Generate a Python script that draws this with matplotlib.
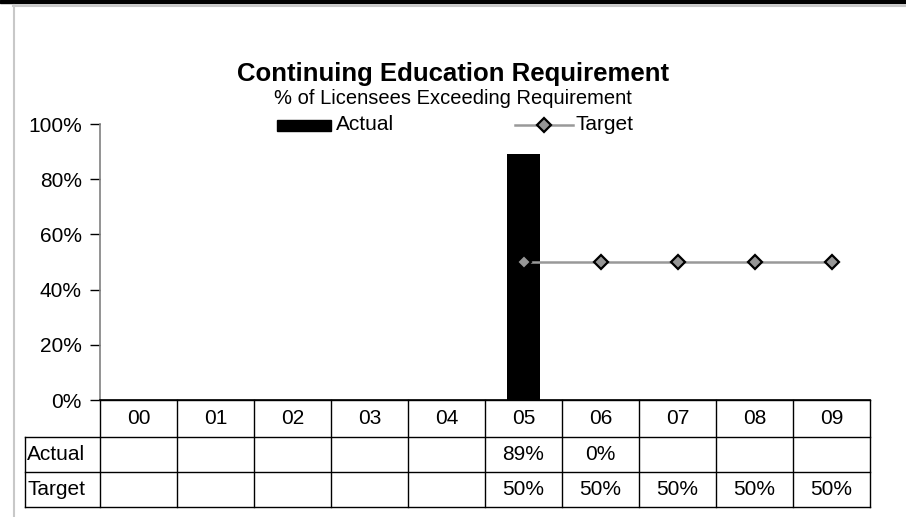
import matplotlib
matplotlib.use("Agg")
import matplotlib.pyplot as plt
import numpy as np
from matplotlib.lines import Line2D
from matplotlib.patches import Rectangle
import matplotlib.transforms as mtransforms

categories = ['00', '01', '02', '03', '04', '05', '06', '07', '08', '09']
actual = [None, None, None, None, None, 0.89, 0.0, None, None, None]
target = [None, None, None, None, None, 0.50, 0.50, 0.50, 0.50, 0.50]
yticks = [0, 0.2, 0.4, 0.6, 0.8, 1.0]
ytick_labels = ['0%', '20%', '40%', '60%', '80%', '100%']
title = 'Continuing Education Requirement'
subtitle = '% of Licensees Exceeding Requirement'

plt.rcParams['font.family'] = ['Liberation Sans', 'DejaVu Sans']

W, H = 906, 517
fig = plt.figure(figsize=(W / 100, H / 100), dpi=100)

def fx(px):
    return px / W

def fy(py):
    return 1 - py / H

ax_left, ax_right, ax_top, ax_bottom = 100, 870, 124, 400
ax = fig.add_axes([fx(ax_left), fy(ax_bottom), (ax_right - ax_left) / W, (ax_bottom - ax_top) / H])

bar_x = [i for i, v in enumerate(actual) if v is not None]
bar_v = [v for v in actual if v is not None]
ax.bar(bar_x, bar_v, width=0.42, color='black', zorder=2)

tx = [i for i, v in enumerate(target) if v is not None]
tv = [v for v in target if v is not None]
ax.plot(tx, tv, color='#999999', lw=1.8, marker='D', markersize=7,
        markerfacecolor='#969696', markeredgecolor='black', markeredgewidth=1.6, zorder=3)

fs = 15
ax.set_xlim(-0.5, len(categories) - 0.5)
ax.set_ylim(0, 1.0)
ax.set_yticks(yticks)
ax.set_yticklabels(ytick_labels, fontsize=fs)
ax.set_xticks([])
for s in ['top', 'right']:
    ax.spines[s].set_visible(False)
ax.spines['left'].set_color('#808080')
ax.spines['left'].set_linewidth(1.2)
ax.spines['bottom'].set_color('black')
ax.spines['bottom'].set_linewidth(1.2)
ax.tick_params(axis='y', direction='out', length=7, width=1.0, color='black', pad=6)
ax.patch.set_alpha(0)

# Table below the axes
trans = mtransforms.blended_transform_factory(ax.transData, fig.transFigure)
row_edges = [400, 437, 472, 507]
label_left_px = 25
tcol = 'black'
lw = 1.0
fig.add_artist(Line2D([fx(ax_left), fx(ax_right)], [fy(400)] * 2, color=tcol, lw=lw))
for ry in row_edges[1:]:
    fig.add_artist(Line2D([fx(label_left_px), fx(ax_right)], [fy(ry)] * 2, color=tcol, lw=lw))
for i in range(len(categories) + 1):
    xb = i - 0.5
    fig.add_artist(Line2D([xb, xb], [fy(400), fy(507)], color=tcol, lw=lw, transform=trans))
fig.add_artist(Line2D([fx(label_left_px)] * 2, [fy(437), fy(507)], color=tcol, lw=lw))

for i, c in enumerate(categories):
    fig.text(i, fy(418.5), c, transform=trans, ha='center', va='center', fontsize=fs)
    if actual[i] is not None:
        fig.text(i, fy(454.5), f'{actual[i] * 100:.0f}%', transform=trans, ha='center', va='center', fontsize=fs)
    if target[i] is not None:
        fig.text(i, fy(489.5), f'{target[i] * 100:.0f}%', transform=trans, ha='center', va='center', fontsize=fs)
fig.text(fx(27), fy(454.5), 'Actual', ha='left', va='center', fontsize=fs)
fig.text(fx(27), fy(489.5), 'Target', ha='left', va='center', fontsize=fs)

# Titles
fig.text(0.5, fy(74), title, ha='center', va='center', fontsize=18.5, fontweight='bold')
fig.text(0.5, fy(99), subtitle, ha='center', va='center', fontsize=14.5)

# Legend (manual)
fig.add_artist(Rectangle((fx(277), fy(131)), (331 - 277) / W, 11 / H, color='black'))
fig.text(fx(336), fy(125), 'Actual', ha='left', va='center', fontsize=fs)
fig.add_artist(Line2D([fx(515), fx(573)], [fy(125)] * 2, color='#999999', lw=1.8))
fig.add_artist(Line2D([fx(544)], [fy(125)], marker='D', markersize=7, markerfacecolor='#969696',
                      markeredgecolor='black', markeredgewidth=1.6, lw=0))
fig.text(fx(576), fy(125), 'Target', ha='left', va='center', fontsize=fs)

# Frame
fig.add_artist(Rectangle((0, fy(3)), 1, 3 / H, color='black'))
fig.add_artist(Line2D([fx(13), 1], [fy(5.5)] * 2, color='#c8c8c8', lw=1.5))
fig.add_artist(Line2D([fx(13.5)] * 2, [fy(5), 0], color='#c8c8c8', lw=1.5))

fig.savefig('out.png', dpi=100)
